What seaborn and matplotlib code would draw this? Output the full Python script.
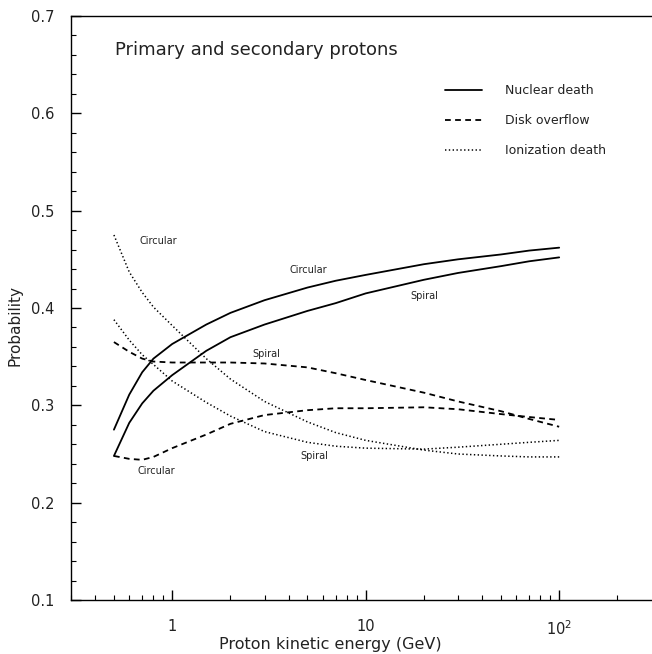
import numpy as np
import pandas as pd
import matplotlib
matplotlib.use("Agg")
import matplotlib.pyplot as plt
import seaborn as sns
from matplotlib.ticker import FixedLocator, NullFormatter, FixedFormatter

sns.set_theme(style="white")
plt.rcParams['font.family'] = ['DejaVu Sans']

# ---- data ----
energy = [0.5, 0.6, 0.7, 0.8, 1, 1.5, 2, 3, 5, 7, 10, 20, 30, 50, 70, 100]

nuclear_circular = [0.275, 0.311, 0.334, 0.348, 0.363, 0.383, 0.395, 0.408, 0.421, 0.428,
                    0.434, 0.445, 0.450, 0.455, 0.459, 0.462]
nuclear_spiral = [0.248, 0.282, 0.302, 0.315, 0.331, 0.356, 0.370, 0.383, 0.397, 0.405,
                  0.415, 0.429, 0.436, 0.443, 0.448, 0.452]
disk_spiral = [0.365, 0.355, 0.348, 0.345, 0.344, 0.344, 0.344, 0.343, 0.339, 0.333,
               0.326, 0.313, 0.304, 0.294, 0.286, 0.278]
disk_circular = [0.248, 0.245, 0.244, 0.247, 0.256, 0.270, 0.281, 0.290, 0.295, 0.297,
                 0.297, 0.298, 0.296, 0.291, 0.288, 0.285]
ion_circular = [0.475, 0.437, 0.416, 0.401, 0.382, 0.348, 0.327, 0.304, 0.283, 0.272,
                0.264, 0.254, 0.250, 0.248, 0.247, 0.247]
ion_spiral = [0.388, 0.367, 0.352, 0.342, 0.325, 0.303, 0.289, 0.273, 0.262, 0.258,
              0.256, 0.255, 0.257, 0.260, 0.262, 0.264]

processes = ["Nuclear death", "Disk overflow", "Ionization death"]
x_ticks = [1, 10, 100]
x_ticklabels = ["1", "10", "$10^2$"]
y_ticks = [0.1, 0.2, 0.3, 0.4, 0.5, 0.6, 0.7]
title_text = "Primary and secondary protons"

series = [
    ("Nuclear death", "Circular", nuclear_circular),
    ("Nuclear death", "Spiral", nuclear_spiral),
    ("Disk overflow", "Spiral", disk_spiral),
    ("Disk overflow", "Circular", disk_circular),
    ("Ionization death", "Circular", ion_circular),
    ("Ionization death", "Spiral", ion_spiral),
]

rows = []
for proc, geom, vals in series:
    for e, v in zip(energy, vals):
        rows.append({"E": e, "P": v, "process": proc, "geometry": geom})
df = pd.DataFrame(rows)

styles = {
    "Nuclear death": dict(linestyle="-", lw=1.3),
    "Disk overflow": dict(dashes=(3.2, 2.4), lw=1.3),
    "Ionization death": dict(dashes=(0.9, 1.6), lw=1.1),
}

W, H = 652, 654
fig = plt.figure(figsize=(W / 100, H / 100), dpi=100)
ax = fig.add_axes([71 / W, (H - 600) / H, 580.5 / W, 584 / H])

handles = {}
for proc, geom, vals in series:
    sub = df[(df.process == proc) & (df.geometry == geom)]
    sns.lineplot(data=sub, x="E", y="P", ax=ax, color="black", estimator=None,
                 sort=False, legend=False, **styles[proc])
    handles.setdefault(proc, ax.lines[-1])

ax.set_xscale("log")
ax.set_xlim(0.3, 300)
ax.set_ylim(0.1, 0.7)

# ticks
ax.xaxis.set_major_locator(FixedLocator(x_ticks))
ax.xaxis.set_major_formatter(FixedFormatter(x_ticklabels))
minors = [m * 10.0 ** d for d in range(-1, 3) for m in range(2, 10)]
minors = [v for v in minors if 0.3 < v < 300 and v not in x_ticks]
ax.xaxis.set_minor_locator(FixedLocator(minors))
ax.xaxis.set_minor_formatter(NullFormatter())
ax.yaxis.set_major_locator(FixedLocator(y_ticks))
ax.yaxis.set_minor_locator(FixedLocator(np.round(np.arange(0.1, 0.7001, 0.02), 3)))
ax.set_yticklabels([f"{v:.1f}" for v in y_ticks])

ax.tick_params(axis="both", which="both", direction="in", bottom=True, left=True,
               top=False, right=False, color="black", labelcolor="#222222", labelsize=10.5)
ax.tick_params(axis="both", which="major", length=7.5, width=1)
ax.tick_params(axis="both", which="minor", length=3.8, width=0.8)
ax.tick_params(axis="y", which="major", pad=12)
ax.tick_params(axis="x", which="major", pad=14)

for s in ["left", "bottom", "top"]:
    ax.spines[s].set_visible(True)
    ax.spines[s].set_color("black")
    ax.spines[s].set_linewidth(1.0)
ax.spines["right"].set_visible(False)

ax.set_xlabel("Proton kinetic energy (GeV)", fontsize=11.5, color="#222222", va="center")
ax.set_ylabel("Probability", fontsize=11, color="#222222", va="center", ha="center")
ax.xaxis.set_label_coords((330 - 71) / 580.5, (600 - 645) / 584)
ax.yaxis.set_label_coords((15 - 71) / 580.5, (600 - 325) / 584)

# title text inside
fig.text(115 / W, 1 - 50 / H, title_text, fontsize=13, color="#222222",
         ha="left", va="center")

# curve annotations
def ann(x, y, s):
    fig.text(x / W, 1 - y / H, s, fontsize=7, color="#222222", ha="left", va="center")

ann(140, 241, "Circular")
ann(290, 270, "Circular")
ann(410, 296, "Spiral")
ann(252, 354, "Spiral")
ann(300, 456, "Spiral")
ann(138, 471, "Circular")

leg = ax.legend([handles[p] for p in processes], processes, loc="upper left",
                bbox_to_anchor=(445 / W, 1 - 84 / H), bbox_transform=fig.transFigure,
                frameon=False, fontsize=9, handlelength=3.0, handletextpad=1.8,
                labelspacing=1.38, borderpad=0, borderaxespad=0)
for t in leg.get_texts():
    t.set_color("#222222")

fig.savefig("out.png", dpi=100, facecolor="white")
